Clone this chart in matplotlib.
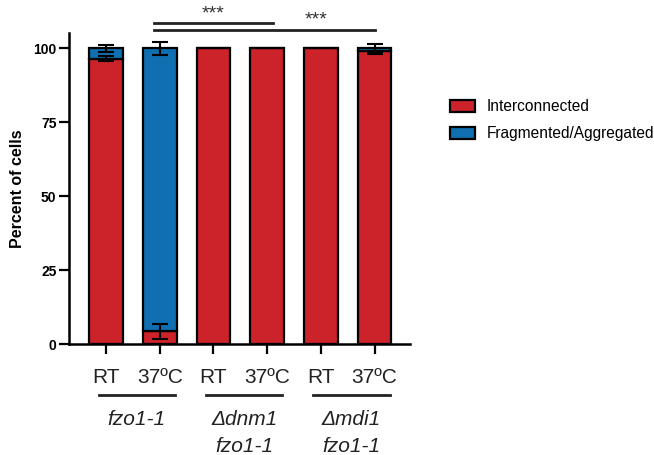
import matplotlib.pyplot as plt
import matplotlib.transforms as mtransforms
from matplotlib.patches import Patch
import numpy as np

plt.rcParams['font.family'] = ['Liberation Sans', 'DejaVu Sans']

# data
conditions = ["RT", "37ºC", "RT", "37ºC", "RT", "37ºC"]
interconnected = [96.5, 4.3, 100, 100, 100, 99.0]
interconnected_err = [0.8, 2.5, 0, 0, 0, 1.0]
fragmented = [3.5, 95.7, 0, 0, 0, 1.0]
fragmented_err = [1.2, 2.3, 0, 0, 0, 1.4]
group_labels = [["fzo1-1"], ["Δdnm1", "fzo1-1"], ["Δmdi1", "fzo1-1"]]
series_names = ["Interconnected", "Fragmented/Aggregated"]

red = "#cc2229"
blue = "#106fb0"

fig = plt.figure(figsize=(6.54, 4.55), dpi=100)
ax = fig.add_axes([69/654, 1-344/455, 341/654, 311/455])

x = np.arange(len(conditions))
w = 0.63
ax.bar(x, interconnected, width=w, color=red, edgecolor="black", linewidth=1.6, zorder=2)
ax.bar(x, fragmented, width=w, bottom=interconnected, color=blue, edgecolor="black", linewidth=1.6, zorder=2)

tops = np.array(interconnected) + np.array(fragmented)
for xi, y, e in zip(x, interconnected, interconnected_err):
    if e > 0:
        ax.errorbar(xi, y, yerr=e, color="black", capsize=6, elinewidth=1.5, capthick=1.5, zorder=3)
for xi, y, e in zip(x, tops, fragmented_err):
    if e > 0:
        ax.errorbar(xi, y, yerr=e, color="black", capsize=6, elinewidth=1.5, capthick=1.5, zorder=3, clip_on=False)

ax.set_xlim(-0.69, 5.66)
ax.set_ylim(0, 105.2)
ax.set_yticks([0, 25, 50, 75, 100])
ax.set_yticklabels(["0", "25", "50", "75", "100"], fontsize=10, fontweight="bold")
ax.set_xticks(x)
ax.set_xticklabels(conditions, fontsize=15, color="#222222")
ax.tick_params(axis="y", length=7, width=1.6, pad=2)
ax.tick_params(axis="x", length=7, width=1.6, pad=10)
ax.set_ylabel("Percent of cells", fontsize=11.5, fontweight="bold")
ax.yaxis.set_label_coords(-44/341, 0.5)
for s in ["top", "right"]:
    ax.spines[s].set_visible(False)
for s in ["left", "bottom"]:
    ax.spines[s].set_linewidth(1.8)

# group labels under the axis
trans = mtransforms.blended_transform_factory(ax.transData, ax.transAxes)
for i, lines in enumerate(group_labels):
    x0, x1 = 2*i - 0.14, 2*i + 1.28
    ax.plot([x0, x1], [-0.164, -0.164], color="#222222", lw=2, transform=trans, clip_on=False)
    for j, t in enumerate(lines):
        ax.text((x0 + x1)/2, -0.262 - j*0.084, t, transform=trans, ha="center", va="baseline",
                fontsize=15, style="italic", color="#222222")

# significance lines
sig = [(0.9, 3.1, 108.6, 2.0), (0.9, 5.0, 106.3, 3.92)]
for a, b, y, sx in sig:
    ax.plot([a, b], [y, y], color="#222222", lw=2, clip_on=False)
    ax.text(sx, y + 0.3, "***", ha="center", va="bottom", fontsize=14, color="#333333")

handles = [Patch(facecolor=red, edgecolor="black", linewidth=1.6),
           Patch(facecolor=blue, edgecolor="black", linewidth=1.6)]
fig.legend(handles, series_names, loc="upper left", bbox_to_anchor=(450/654, 1-99/455),
           frameon=False, fontsize=11.2, handlelength=1.6, handleheight=0.8,
           handletextpad=0.75, labelspacing=0.8, borderpad=0, borderaxespad=0)

fig.savefig("out.png", dpi=100)
